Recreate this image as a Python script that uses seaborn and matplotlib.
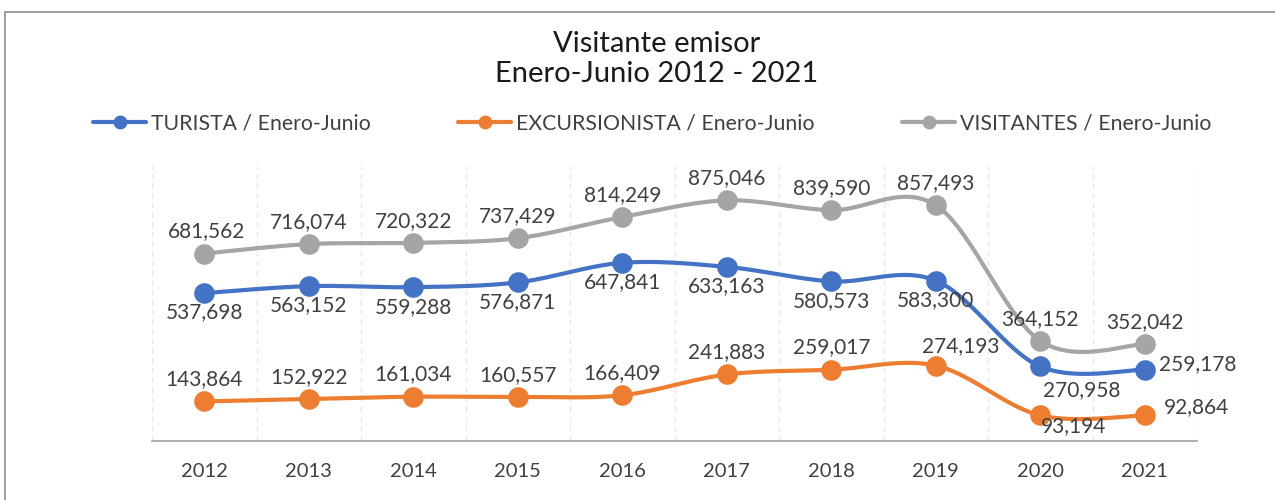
"""
Visitante emisor, Enero-Junio 2012 - 2021.
"""

import numpy as np
import matplotlib.pyplot as plt
import seaborn as sns
from matplotlib.patches import Rectangle
from matplotlib.ticker import FixedLocator

YEARS = [2012, 2013, 2014, 2015, 2016, 2017, 2018, 2019, 2020, 2021]
TURISTA = [537698, 563152, 559288, 576871, 647841, 633163, 580573, 583300, 270958, 259178]
EXCURSIONISTA = [143864, 152922, 161034, 160557, 166409, 241883, 259017, 274193, 93194, 92864]
VISITANTES = [681562, 716074, 720322, 737429, 814249, 875046, 839590, 857493, 364152, 352042]

SERIES = ["TURISTA / Enero-Junio", "EXCURSIONISTA / Enero-Junio", "VISITANTES / Enero-Junio"]
COLORS = ["#4472C4", "#ED7D31", "#A5A5A5"]

# label offsets (points) for each series/point
OFF_TUR = [(0, -14)] * 8 + [(30, -17), (38, 4)]
OFF_EXC = [(0, 16)] * 7 + [(18, 14), (24, -8), (37, 6)]
OFF_VIS = [(0, 16)] * 10
OFF_VIS[0] = (2, 16)

TEXT = "#404040"
FONT = "Lato"


def smooth(x, y, n=30):
    # bezier smoothing similar to the spreadsheet "smoothed line"
    x = np.asarray(x, float)
    y = np.asarray(y, float)
    px, py = [], []
    for i in range(len(x) - 1):
        i0, i3 = max(i - 1, 0), min(i + 2, len(x) - 1)
        c1x = x[i] + (x[i + 1] - x[i0]) / 6
        c1y = y[i] + (y[i + 1] - y[i0]) / 6
        c2x = x[i + 1] - (x[i3] - x[i]) / 6
        c2y = y[i + 1] - (y[i3] - y[i]) / 6
        t = np.linspace(0, 1, n, endpoint=(i == len(x) - 2))
        a, b, c, d = (1 - t) ** 3, 3 * (1 - t) ** 2 * t, 3 * (1 - t) * t ** 2, t ** 3
        px.append(a * x[i] + b * c1x + c * c2x + d * x[i + 1])
        py.append(a * y[i] + b * c1y + c * c2y + d * y[i + 1])
    return np.concatenate(px), np.concatenate(py)


def main():
    sns.set_style("white")
    plt.rcParams["font.family"] = [FONT, "DejaVu Sans"]

    fig = plt.figure(figsize=(12.75, 5), dpi=100)
    ax = fig.add_axes([152 / 1275, 1 - 441 / 500, (1197 - 152) / 1275, (441 - 166) / 500])

    # outer chart border
    fig.patches.append(Rectangle((5 / 1275, -0.1), 1.2, 1 - 12 / 500 + 0.1,
                                 transform=fig.transFigure, fill=False,
                                 edgecolor="#8C8C8C", linewidth=1.2))

    xs = np.arange(len(YEARS))
    values = [TURISTA, EXCURSIONISTA, VISITANTES]
    offsets = [OFF_TUR, OFF_EXC, OFF_VIS]

    for name, vals, color, offs in zip(SERIES, values, COLORS, offsets):
        sx, sy = smooth(xs, vals)
        sns.lineplot(x=sx, y=sy, ax=ax, color=color, linewidth=3, sort=False,
                     estimator=None, zorder=3)
        sns.scatterplot(x=xs, y=vals, ax=ax, color=color, s=220, linewidth=0, zorder=4)
        for x, v, (dx, dy) in zip(xs, vals, offs):
            ax.annotate(f"{v:,}", (x, v), xytext=(dx, dy), textcoords="offset points",
                        ha="center", va="center", fontsize=15, color=TEXT, zorder=5)

    ax.set_xlim(-0.5, len(YEARS) - 0.5)
    ax.set_ylim(0, 1000000)
    ax.set_yticks([])
    ax.set_xticks(xs)
    ax.set_xticklabels([str(y) for y in YEARS], fontsize=14.5, color=TEXT)
    ax.tick_params(axis="x", which="major", length=0, pad=16)
    ax.xaxis.set_minor_locator(FixedLocator(np.arange(-0.5, len(YEARS), 1)))
    ax.tick_params(axis="x", which="minor", length=7, color="#A0A0A0", width=1.2)
    for b in np.arange(-0.5, len(YEARS), 1):
        ax.axvline(b, color="#E8E8E8", linestyle=(0, (4, 3)), linewidth=1, zorder=0)

    for s in ["top", "right", "left"]:
        ax.spines[s].set_visible(False)
    ax.spines["bottom"].set_color("#A0A0A0")
    ax.spines["bottom"].set_linewidth(1.2)

    fig.text(657 / 1275, 1 - 59 / 500, "Visitante emisor\nEnero-Junio 2012 - 2021",
             ha="center", va="center", fontsize=21, color="#1A1A1A", linespacing=1.2)

    # one legend per entry, placed like the original
    starts = [93, 458, 902]
    for name, color, x0 in zip(SERIES, COLORS, starts):
        h = plt.Line2D([], [], color=color, linewidth=3, marker="o", markersize=9)
        fig.legend([h], [name], loc="center left", bbox_to_anchor=(x0 / 1275, 1 - 123 / 500),
                   frameon=False, fontsize=15.3, labelcolor=TEXT, handlelength=2.5,
                   handletextpad=0.25, borderaxespad=0, borderpad=0)

    fig.savefig("out.png", dpi=100)
    plt.close(fig)


if __name__ == "__main__":
    main()
